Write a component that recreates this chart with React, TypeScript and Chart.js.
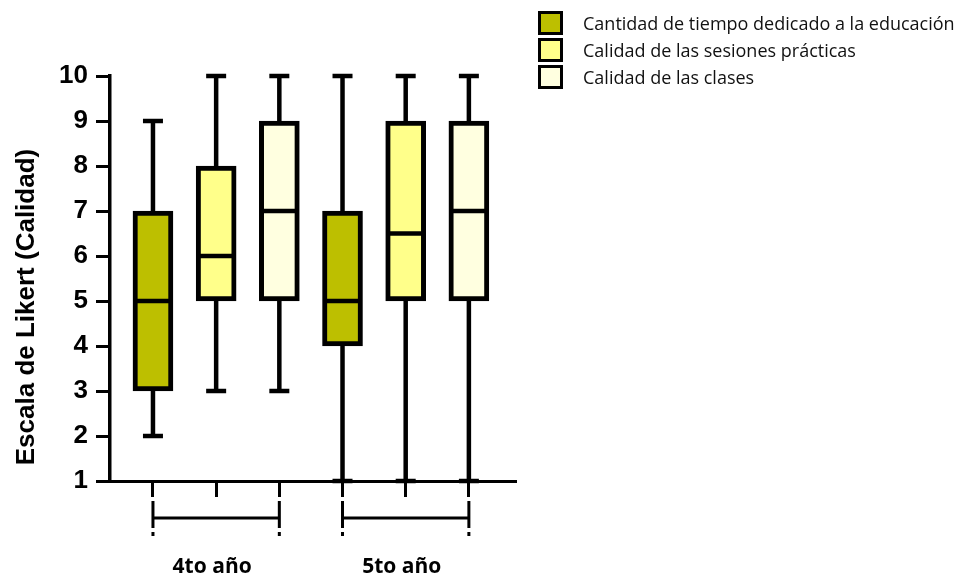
import React, { useEffect, useRef } from 'react';
import { Chart, registerables } from 'chart.js';

Chart.register(...registerables);

// ---- data ----
const groups = ['4to año', '5to año'];
const seriesNames = [
  'Cantidad de tiempo dedicado a la educación',
  'Calidad de las sesiones prácticas',
  'Calidad de las clases',
];
const seriesColors = ['#BDBF00', '#FFFF8A', '#FFFFE0'];

const tiempoMin = [2, 1];
const tiempoQ1 = [3, 4];
const tiempoMed = [5, 5];
const tiempoQ3 = [7, 7];
const tiempoMax = [9, 10];

const sesionesMin = [3, 1];
const sesionesQ1 = [5, 5];
const sesionesMed = [6, 6.5];
const sesionesQ3 = [8, 9];
const sesionesMax = [10, 10];

const clasesMin = [3, 1];
const clasesQ1 = [5, 5];
const clasesMed = [7, 7];
const clasesQ3 = [9, 9];
const clasesMax = [10, 10];

const yTicks = [1, 2, 3, 4, 5, 6, 7, 8, 9, 10];
const yTitle = 'Escala de Likert (Calidad)';

const stats = [
  { min: tiempoMin, q1: tiempoQ1, med: tiempoMed, q3: tiempoQ3, max: tiempoMax },
  { min: sesionesMin, q1: sesionesQ1, med: sesionesMed, q3: sesionesQ3, max: sesionesMax },
  { min: clasesMin, q1: clasesQ1, med: clasesMed, q3: clasesQ3, max: clasesMax },
];

const nSeries = seriesNames.length;
const posOf = (g: number, s: number) => g * nSeries + s + 1;
const xTickPositions = groups.flatMap((_, g) => seriesNames.map((__, s) => posOf(g, s)));

const boxPlugin = {
  id: 'boxDetails',
  beforeDatasetsDraw(chart: any) {
    const { ctx, scales } = chart;
    const x = scales.x;
    const y = scales.y;
    ctx.save();
    ctx.strokeStyle = '#000';
    ctx.lineWidth = 4.5;
    ctx.lineCap = 'butt';
    stats.forEach((st, s) => {
      groups.forEach((_, g) => {
        const px = x.getPixelForValue(posOf(g, s));
        const seg = (a: number, b: number) => {
          ctx.beginPath();
          ctx.moveTo(px, y.getPixelForValue(a));
          ctx.lineTo(px, y.getPixelForValue(b));
          ctx.stroke();
        };
        seg(st.max[g], st.q3[g]);
        seg(st.q1[g], st.min[g]);
        [st.max[g], st.min[g]].forEach((v) => {
          const py = y.getPixelForValue(v);
          ctx.beginPath();
          ctx.moveTo(px - 10, py);
          ctx.lineTo(px + 10, py);
          ctx.stroke();
        });
      });
    });
    ctx.restore();
  },
  afterDatasetsDraw(chart: any) {
    const { ctx, scales } = chart;
    const x = scales.x;
    const y = scales.y;
    ctx.save();
    ctx.strokeStyle = '#000';
    ctx.lineWidth = 4.5;
    stats.forEach((st, s) => {
      groups.forEach((_, g) => {
        const px = x.getPixelForValue(posOf(g, s));
        const py = y.getPixelForValue(st.med[g]);
        ctx.beginPath();
        ctx.moveTo(px - 18, py);
        ctx.lineTo(px + 18, py);
        ctx.stroke();
      });
    });
    ctx.restore();
  },
  afterDraw(chart: any) {
    const { ctx, scales, chartArea } = chart;
    const x = scales.x;
    ctx.save();
    // group brackets
    ctx.strokeStyle = '#000';
    ctx.lineWidth = 3;
    const base = chartArea.bottom;
    groups.forEach((label, g) => {
      const x1 = x.getPixelForValue(posOf(g, 0));
      const x3 = x.getPixelForValue(posOf(g, nSeries - 1));
      const xc = x.getPixelForValue(posOf(g, (nSeries - 1) / 2));
      ctx.beginPath();
      ctx.moveTo(x1, base + 37);
      ctx.lineTo(x3, base + 37);
      ctx.stroke();
      [x1, x3].forEach((px) => {
        ctx.beginPath();
        ctx.moveTo(px, base + 20);
        ctx.lineTo(px, base + 47);
        ctx.moveTo(px, base + 51);
        ctx.lineTo(px, base + 55);
        ctx.stroke();
      });
      ctx.fillStyle = '#000';
      ctx.font = 'bold 21px "Open Sans"';
      ctx.textAlign = 'center';
      ctx.textBaseline = 'alphabetic';
      ctx.fillText(label, xc - 4, base + 92);
    });
    // y axis title
    ctx.translate(27, 307);
    ctx.rotate(-Math.PI / 2);
    ctx.font = 'bold 26px "Liberation Sans"';
    ctx.textAlign = 'center';
    ctx.textBaseline = 'middle';
    ctx.fillStyle = '#000';
    ctx.fillText(yTitle, 0, 0);
    ctx.restore();
  },
};

export default function App() {
  const ref = useRef<HTMLCanvasElement | null>(null);

  useEffect(() => {
    if (!ref.current) return;
    Chart.defaults.color = '#000';
    Chart.defaults.font.family = '"Liberation Sans", Arial, sans-serif';
    const chart = new Chart(ref.current, {
      type: 'bar',
      data: {
        datasets: seriesNames.map((name, s) => ({
          label: name,
          data: groups.map((_, g) => ({ x: posOf(g, s), y: [stats[s].q1[g], stats[s].q3[g]] })),
          backgroundColor: seriesColors[s],
          borderColor: '#000',
          borderWidth: 5,
          borderSkipped: false,
          barThickness: 40,
          grouped: false,
        })) as any,
      },
      options: {
        animation: false,
        responsive: false,
        devicePixelRatio: window.devicePixelRatio || 1,
        layout: { padding: { top: 76, right: 446, left: 0, bottom: 0 } },
        plugins: {
          legend: { display: false },
          tooltip: { enabled: false },
        },
        scales: {
          x: {
            type: 'linear',
            min: 0.32,
            max: 6.73,
            offset: false,
            afterBuildTicks: (s: any) => {
              s.ticks = xTickPositions.map((v) => ({ value: v }));
            },
            afterFit: (s: any) => {
              s.height = 96;
            },
            ticks: { display: false },
            grid: { offset: false, drawOnChartArea: false, color: '#000', lineWidth: 3, tickLength: 16 },
            border: { color: '#000', width: 3 },
          },
          y: {
            type: 'linear',
            min: 1,
            max: 10,
            afterBuildTicks: (s: any) => {
              s.ticks = yTicks.map((v) => ({ value: v }));
            },
            afterFit: (s: any) => {
              s.width = 110;
            },
            ticks: {
              color: '#000',
              padding: 8,
              font: { family: '"Liberation Sans", Arial, sans-serif', size: 26, weight: 'bold' },
            },
            grid: { drawOnChartArea: false, color: '#000', lineWidth: 3, tickLength: 14 },
            border: { color: '#000', width: 3.5 },
          },
        },
      } as any,
      plugins: [boxPlugin],
    });
    return () => chart.destroy();
  }, []);

  return (
    <div style={{ position: 'absolute', left: 0, top: 0, width: 961, height: 577, background: '#fff' }}>
      <canvas ref={ref} width={961} height={577} style={{ display: 'block', width: 961, height: 577 }} />
      <div style={{ position: 'absolute', left: 538, top: 11 }}>
        {seriesNames.map((name, s) => (
          <div key={name} style={{ display: 'flex', alignItems: 'center', height: 24, marginBottom: 3 }}>
            <div
              style={{
                width: 25,
                height: 24,
                boxSizing: 'border-box',
                border: '3px solid #000',
                background: seriesColors[s],
                flex: '0 0 auto',
              }}
            />
            <span
              style={{
                marginLeft: 20,
                fontFamily: '"Open Sans", sans-serif',
                fontSize: 18,
                color: '#111',
                whiteSpace: 'nowrap',
                lineHeight: '24px',
              }}
            >
              {name}
            </span>
          </div>
        ))}
      </div>
    </div>
  );
}
